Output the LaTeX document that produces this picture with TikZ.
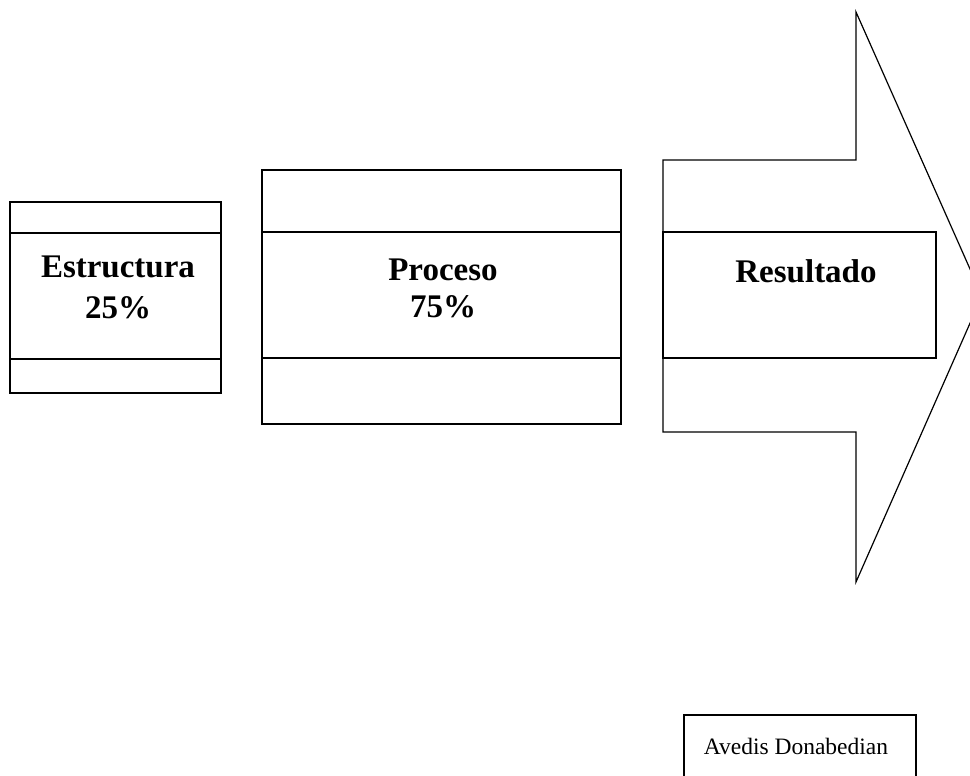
\documentclass[tikz,border=0pt]{standalone}
\usepackage{fontspec}
\setmainfont{Liberation Serif}
\begin{document}
\begin{tikzpicture}[x=1pt,y=-1pt,
  box/.style={draw=black,line width=1.2pt,fill=none},
  big/.style={font=\fontsize{33}{33}\selectfont\bfseries,inner sep=0pt,anchor=base},
  small/.style={font=\fontsize{23.5}{23.5}\selectfont,inner sep=0pt,anchor=base}]
\useasboundingbox (0,0) rectangle (970,776);
% Estructura
\draw[box] (10,202) rectangle (221,393);
\draw[box] (10,233) -- (221,233);
\draw[box] (10,359) -- (221,359);
\node[big] (estr) at (118,277) {Estructura};
\node[big] (e25) at (118,318) {25\%};
% Proceso
\draw[box] (262,170) rectangle (621,424);
\draw[box] (262,232) -- (621,232);
\draw[box] (262,358) -- (621,358);
\node[big] (proc) at (443,280) {Proceso};
\node[big] (p75) at (443,317) {75\%};
% Resultado arrow
\coordinate (st) at (663,160);
\coordinate (sb) at (663,432);
\coordinate (ht) at (856,12);
\coordinate (hb) at (856,582);
\coordinate (tip) at (982,296);
\draw[box,line join=miter] (st) -- (856,160) -- (ht) -- (tip) -- (hb) -- (856,432) -- (sb) -- cycle;
\draw[box] (663,232) rectangle (936,358);
\node[big] (res) at (806,282) {Resultado};
% Avedis
\draw[box] (684,715) rectangle (916,790);
\node[small] (ave) at (796,754) {Avedis Donabedian};
\end{tikzpicture}
\end{document}
